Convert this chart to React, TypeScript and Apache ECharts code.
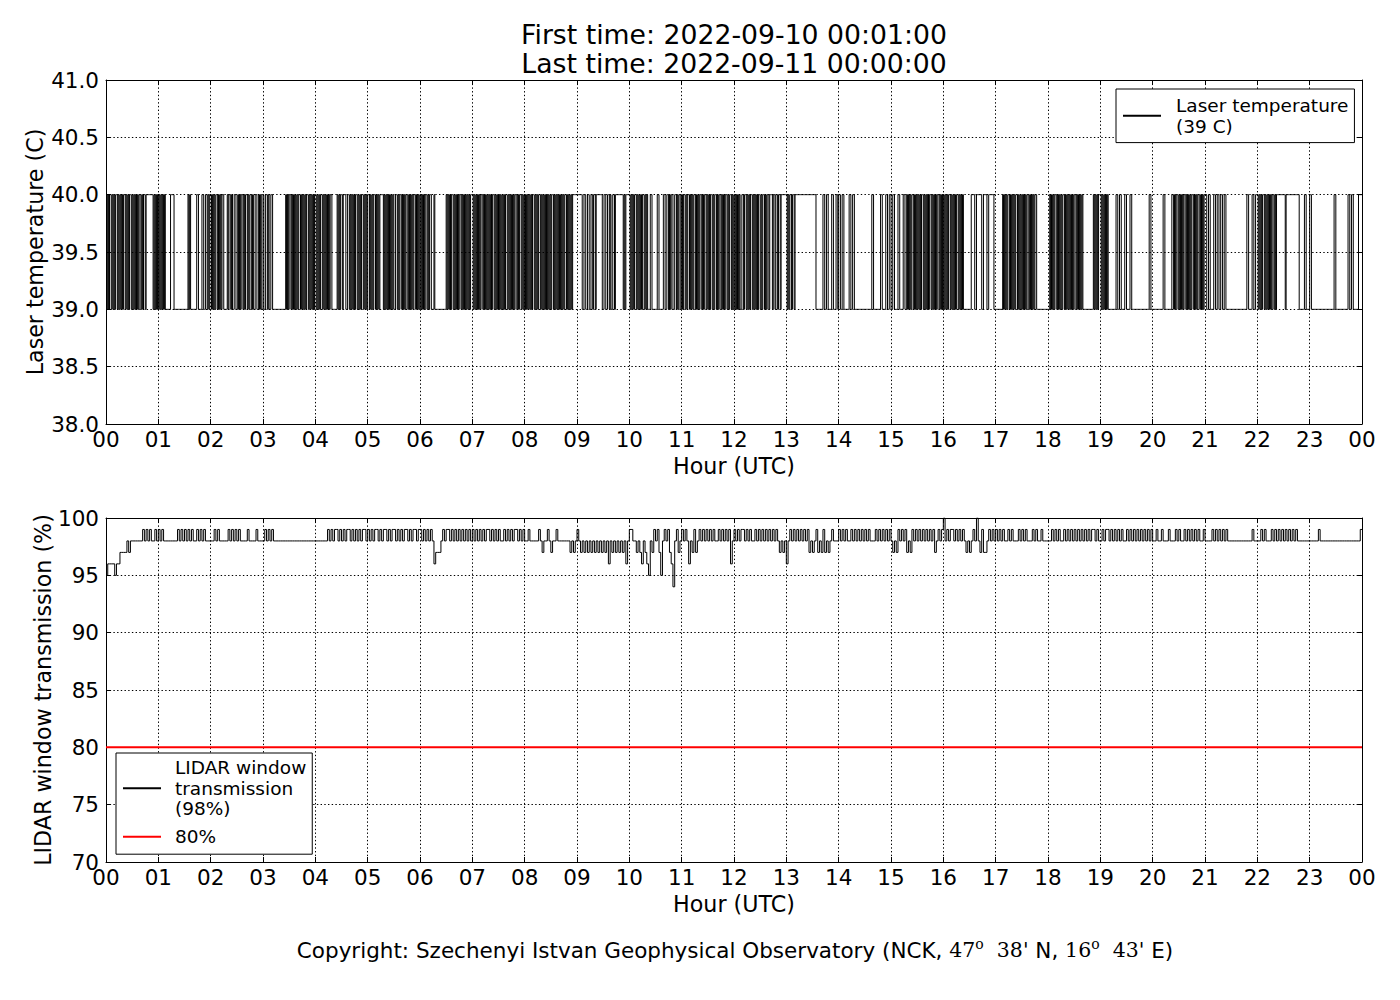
import React, { useEffect, useRef } from "react";
import * as echarts from "echarts";

const FONT = "DejaVu Sans";
const MATH_FONT = "DejaVu Serif";

const titleLines = ["First time: 2022-09-10 00:01:00", "Last time: 2022-09-11 00:00:00"];
const hourTicks = ["00","01","02","03","04","05","06","07","08","09","10","11","12","13","14","15","16","17","18","19","20","21","22","23","00"];
const laserTicks = ["38.0","38.5","39.0","39.5","40.0","40.5","41.0"];
const windowTicks = ["70","75","80","85","90","95","100"];
const laserMin = 38;
const laserMax = 41;
const laserStep = 0.5;
const windowMin = 70;
const windowMax = 100;
const windowStep = 5;
const dayMinutes = 1440;
const hourMinutes = 60;
const thresholdPct = 80;

const laserName = "Laser temperature";
const laserLegend = "Laser temperature\n(39 C)";
const windowName = "LIDAR window transmission";
const windowLegend = "LIDAR window\ntransmission\n(98%)";
const thresholdName = "80%";

// Laser temperature, one string per hour, 1-minute cells: "0" = 39 C, "1" = 40 C
const laserLow = 39;
const laserHigh = 40;
const laserHours = [
  "101011010101101010101101010110101010101101011011111111010101",
  "010101010000001111000000000000000010100000001100001100110101",
  "101010110101011000010110100110010101101011010110100110010100",
  "100110100110000000000000001010110101010101101010101101010101",
  "101010110101010101100000010101101110011010101011010101101010",
  "110101011010101111010101010101001101011010101101010101101010",
  "101010110101100010000000000000101010110101010110101010101011",
  "101010101011010101010101101010101010101101010101011010110101",
  "010101010110101011010101010101011010101010101011010101011111",
  "111111001100110011011011111110011001101001101111111110101111",
  "101010110101010110101000110000001100000110011010110011010110",
  "101101011010101101010110101101010110101101011010101101011010",
  "101010100110110101011010101011010110101101110110110110111111",
  "101011011011111111111111111111111100000000110011000011000110",
  "110011000000110011000000000000000000001100000000110000110011",
  "001100001100001100101010110101010101101010101101010101101010",
  "101010110101010110101010000000001111001111110011110011111100",
  "000000001010101101010101101010101010110101010110000000000000",
  "001010101101010101101010101010110101010100000000000010101011",
  "101010101000000000110011000011000011000000000000000000001100",
  "000000000000110000000011010110101010110101010110101011010101",
  "110011000011001100110011000000000000000000000000110000110011",
  "101010110101010101101011111111110111111111111111000000110000",
  "110000000000000000000000000011000000000000001100110000001111",
];

// LIDAR window transmission, one string per hour, 2-minute cells: digit d = 90 + d %, "X" = 100 %
const windowHours = [
  "566665667777878888888989898898",
  "989888888889898989898898989888",
  "889898888898989898888988889888",
  "898989888888888888888888888888",
  "888888898989989898998989898998",
  "989899898998989989898998989989",
  "989898986777898998989898989898",
  "989898989989898988989898998989",
  "889888889878898788988888887878",
  "987878787878787878687878787868",
  "998878768765879897589897648978",
  "989868797898989898988989898968",
  "989899898988989898989898987878",
  "689898989898978789787978789888",
  "989898898989898989888989898989",
  "878798989787989898989898978989",
  "X898998989898787898X8797789898",
  "989898898988898989888989889888",
  "889898988989898989898989899898",
  "898998989898988989898989898989",
  "889889888988898988989898989889",
  "888898989898988888888888888988",
  "889898889898989898989898888888",
  "888889888888888888888888888889",
];

function decode(hours: string[], value: (c: string) => number): number[][] {
  const pts: number[][] = [];
  hours.forEach((s, h) => {
    const n = s.length;
    for (let i = 0; i < n; i++) {
      pts.push([h * hourMinutes + ((i + 1) * hourMinutes) / n, value(s[i])]);
    }
  });
  return pts;
}

const laserData = decode(laserHours, (c) => (c === "1" ? laserHigh : laserLow));
const windowData = decode(windowHours, (c) => (c === "X" ? 100 : 90 + Number(c)));
const thresholdData = [
  [0, thresholdPct],
  [dayMinutes, thresholdPct],
];

export default function App() {
  const ref = useRef<HTMLDivElement>(null);

  useEffect(() => {
    if (!ref.current) return;
    const chart = echarts.init(ref.current, undefined, { renderer: "svg" });

    const axisText = { fontFamily: FONT, fontSize: 21.5, color: "#000" };
    const nameText = { fontFamily: FONT, fontSize: 22.2, color: "#000" };
    const frameLine = { show: true, onZero: false, lineStyle: { color: "#000", width: 1 } };
    const inTick = { show: true, inside: true, length: 5, lineStyle: { color: "#000", width: 1 } };
    const gridLine = { show: true, lineStyle: { color: "#000", width: 1, type: [1.4, 2.3] } };

    const xAxes = (gi: number) => [
      {
        type: "value", gridIndex: gi, position: "bottom", min: 0, max: dayMinutes, interval: hourMinutes,
        axisLine: frameLine, axisTick: inTick,
        axisLabel: {
          show: true, ...axisText, margin: 4, showMinLabel: true, showMaxLabel: true,
          formatter: (v: number) => hourTicks[Math.round(v / hourMinutes)],
        },
        splitLine: gridLine,
        name: "Hour (UTC)", nameLocation: "middle", nameGap: 31, nameMoveOverlap: false,
        nameTextStyle: { ...nameText },
      },
      {
        type: "value", gridIndex: gi, position: "top", min: 0, max: dayMinutes, interval: hourMinutes,
        axisLine: frameLine, axisTick: inTick, axisLabel: { show: false }, splitLine: { show: false },
      },
    ];

    const yAxes = (gi: number, min: number, max: number, step: number, ticks: string[], name: string, gap: number) => [
      {
        type: "value", gridIndex: gi, position: "left", min, max, interval: step,
        axisLine: frameLine, axisTick: inTick,
        axisLabel: {
          show: true, ...axisText, margin: 7, showMinLabel: true, showMaxLabel: true,
          formatter: (v: number) => ticks[Math.round((v - min) / step)],
        },
        splitLine: gridLine,
        name, nameLocation: "middle", nameGap: gap, nameMoveOverlap: false, nameTextStyle: { ...nameText },
      },
      {
        type: "value", gridIndex: gi, position: "right", min, max, interval: step,
        axisLine: frameLine, axisTick: inTick, axisLabel: { show: false }, splitLine: { show: false },
      },
    ];

    const legendText = { fontFamily: FONT, fontSize: 18.5, lineHeight: 20.8, color: "#000" };

    const option: any = {
      animation: false,
      backgroundColor: "#fff",
      grid: [
        { left: 106, right: 38, top: 80, height: 344 },
        { left: 106, right: 38, top: 518, height: 344 },
      ],
      xAxis: [...xAxes(0), ...xAxes(1)],
      yAxis: [
        ...yAxes(0, laserMin, laserMax, laserStep, laserTicks, "Laser temperature (C)", 60),
        ...yAxes(1, windowMin, windowMax, windowStep, windowTicks, "LIDAR window transmission (%)", 52),
      ],
      legend: [
        {
          data: [laserName], orient: "vertical", left: 1116, top: 89,
          formatter: () => laserLegend,
          borderColor: "#000", borderWidth: 1, borderRadius: 0, backgroundColor: "#fff",
          padding: [6, 6, 6, 6], itemWidth: 38, itemHeight: 14, itemGap: 7,
          itemStyle: { opacity: 0 },
          textStyle: { ...legendText, padding: [0, 0, 0, 10] },
          selectedMode: false,
        },
        {
          data: [windowName, thresholdName], orient: "vertical", left: 116, top: 753,
          formatter: (n: string) => (n === windowName ? windowLegend : n),
          borderColor: "#000", borderWidth: 1, borderRadius: 0, backgroundColor: "#fff",
          padding: [4, 6, 7, 6], itemWidth: 38, itemHeight: 14, itemGap: 7,
          itemStyle: { opacity: 0 },
          textStyle: { ...legendText, padding: [0, 0, 0, 9] },
          selectedMode: false,
        },
      ],
      series: [
        {
          type: "line", name: laserName, xAxisIndex: 0, yAxisIndex: 0, data: laserData,
          step: "start", symbol: "none", showSymbol: false, silent: true,
          lineStyle: { color: "#000", width: 1 }, itemStyle: { color: "#000" },
        },
        {
          type: "line", name: windowName, xAxisIndex: 2, yAxisIndex: 2, data: windowData,
          step: "start", symbol: "none", showSymbol: false, silent: true,
          lineStyle: { color: "#000", width: 1 }, itemStyle: { color: "#000" },
        },
        {
          type: "line", name: thresholdName, xAxisIndex: 2, yAxisIndex: 2, data: thresholdData,
          symbol: "none", showSymbol: false, silent: true,
          lineStyle: { color: "#ff0000", width: 2 }, itemStyle: { color: "#ff0000" },
        },
      ],
      graphic: [
        {
          type: "text", x: 734, y: 34,
          style: { text: titleLines[0], fontFamily: FONT, fontSize: 26.7, fill: "#000", align: "center", verticalAlign: "middle", textAlign: "center", textVerticalAlign: "middle" },
        },
        {
          type: "text", x: 734, y: 63,
          style: { text: titleLines[1], fontFamily: FONT, fontSize: 26.7, fill: "#000", align: "center", verticalAlign: "middle", textAlign: "center", textVerticalAlign: "middle" },
        },
        {
          type: "text", x: 735, y: 950,
          style: {
            text: "{a|Copyright: Szechenyi Istvan Geophysical Observatory (NCK, }{m|47}{s|o}{m|  38'}{a| N, }{m|16}{s|o}{m|  43'}{a| E)}",
            align: "center", verticalAlign: "middle", textAlign: "center", textVerticalAlign: "middle",
            fill: "#000",
            rich: {
              a: { fontFamily: FONT, fontSize: 21.5, fill: "#000", lineHeight: 26 },
              m: { fontFamily: MATH_FONT, fontSize: 20.5, fill: "#000", lineHeight: 26 },
              s: { fontFamily: MATH_FONT, fontSize: 14, fill: "#000", lineHeight: 26, verticalAlign: "top" },
            },
          },
        },
      ],
    };

    chart.setOption(option);
    return () => chart.dispose();
  }, []);

  return (
    <div
      ref={ref}
      style={{ position: "absolute", left: 0, top: 0, width: 1400, height: 1000, background: "#fff" }}
    />
  );
}
